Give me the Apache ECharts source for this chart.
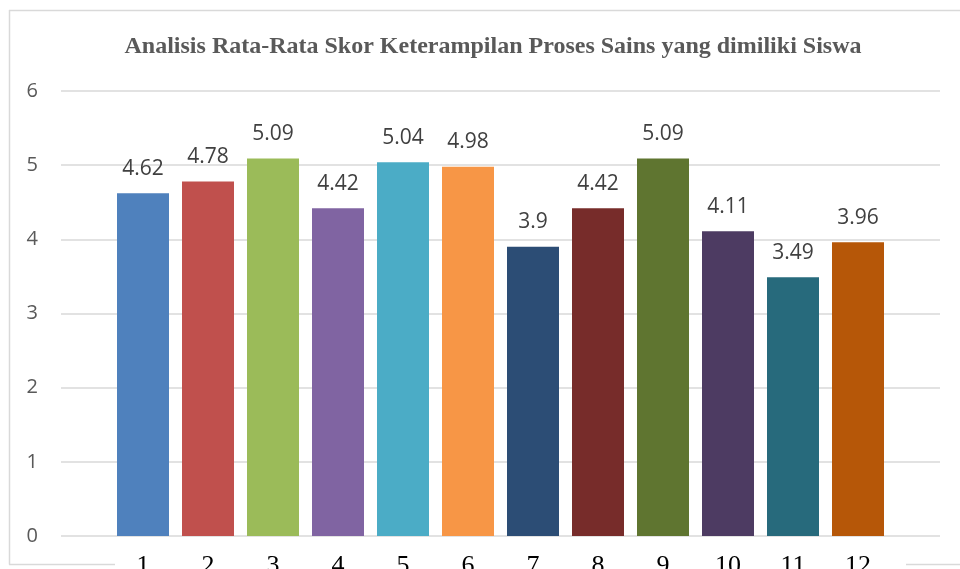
<!DOCTYPE html>
<html>
<head>
<meta charset="utf-8">
<script src="https://cdn.jsdelivr.net/npm/echarts@6/dist/echarts.min.js"></script>
<style>
  html, body { margin: 0; padding: 0; background: #ffffff; }
  #chart { width: 960px; height: 569px; }
</style>
</head>
<body>
<div id="chart"></div>
<script>
// Rata-rata skor keterampilan proses sains per indikator
const categories = ['1', '2', '3', '4', '5', '6', '7', '8', '9', '10', '11', '12'];
const scores = [4.62, 4.78, 5.09, 4.42, 5.04, 4.98, 3.9, 4.42, 5.09, 4.11, 3.49, 3.96];
const barColors = ['#4F81BD', '#C0504D', '#9BBB59', '#8064A2', '#4BACC6', '#F79646',
                   '#2C4D75', '#772C2A', '#5F7530', '#4D3B62', '#276A7C', '#B65708'];
const yTicks = [0, 1, 2, 3, 4, 5, 6];

const chart = echarts.init(document.getElementById('chart'), null, { renderer: 'canvas' });

const borderColor = '#d9d9d9';

chart.setOption({
  backgroundColor: '#ffffff',
  animation: false,
  title: {
    text: 'Analisis Rata-Rata Skor Keterampilan Proses Sains yang dimiliki Siswa',
    left: 488,
    top: 30,
    textAlign: 'center',
    textStyle: {
      fontFamily: 'Liberation Serif',
      fontWeight: 'bold',
      fontSize: 24,
      color: '#595959'
    }
  },
  grid: [
    // value-axis area with gridlines
    { left: 61, right: 20, top: 91, bottom: 33, outerBoundsMode: 'none' },
    // bar area
    { left: 110.5, right: 69.5, top: 91, bottom: 33, outerBoundsMode: 'none' }
  ],
  xAxis: [
    { gridIndex: 0, type: 'value', show: false, min: 0, max: 1 },
    {
      gridIndex: 1,
      type: 'category',
      data: categories,
      axisLine: { show: false },
      axisTick: { show: false },
      axisLabel: {
        margin: 17,
        fontFamily: 'Liberation Serif',
        fontSize: 26,
        color: '#000000'
      }
    }
  ],
  yAxis: [
    {
      gridIndex: 0,
      type: 'value',
      min: yTicks[0],
      max: yTicks[yTicks.length - 1],
      interval: 1,
      axisLine: { show: false },
      axisTick: { show: false },
      axisLabel: {
        margin: 23,
        fontFamily: 'Open Sans',
        fontSize: 20,
        color: '#595959'
      },
      splitLine: { lineStyle: { color: '#d9d9d9', width: 1.5 } }
    },
    {
      gridIndex: 1,
      type: 'value',
      min: yTicks[0],
      max: yTicks[yTicks.length - 1],
      interval: 1,
      show: false,
      splitLine: { show: false }
    }
  ],
  series: [
    {
      type: 'bar',
      xAxisIndex: 1,
      yAxisIndex: 1,
      barWidth: 52,
      data: scores.map((v, i) => ({ value: v, itemStyle: { color: barColors[i] } })),
      label: {
        show: true,
        position: 'top',
        distance: 14,
        fontFamily: 'Open Sans',
        fontSize: 21,
        color: '#404040'
      }
    }
  ],
  graphic: [
    // chart area frame
    { type: 'line', shape: { x1: 9, y1: 10.5, x2: 960, y2: 10.5 }, style: { stroke: borderColor, lineWidth: 1.5 } },
    { type: 'line', shape: { x1: 9.5, y1: 10, x2: 9.5, y2: 564.5 }, style: { stroke: borderColor, lineWidth: 1.5 } },
    { type: 'line', shape: { x1: 9, y1: 564.5, x2: 115, y2: 564.5 }, style: { stroke: borderColor, lineWidth: 1.5 } },
    { type: 'line', shape: { x1: 906, y1: 564.5, x2: 960, y2: 564.5 }, style: { stroke: borderColor, lineWidth: 1.5 } }
  ]
});
</script>
</body>
</html>
